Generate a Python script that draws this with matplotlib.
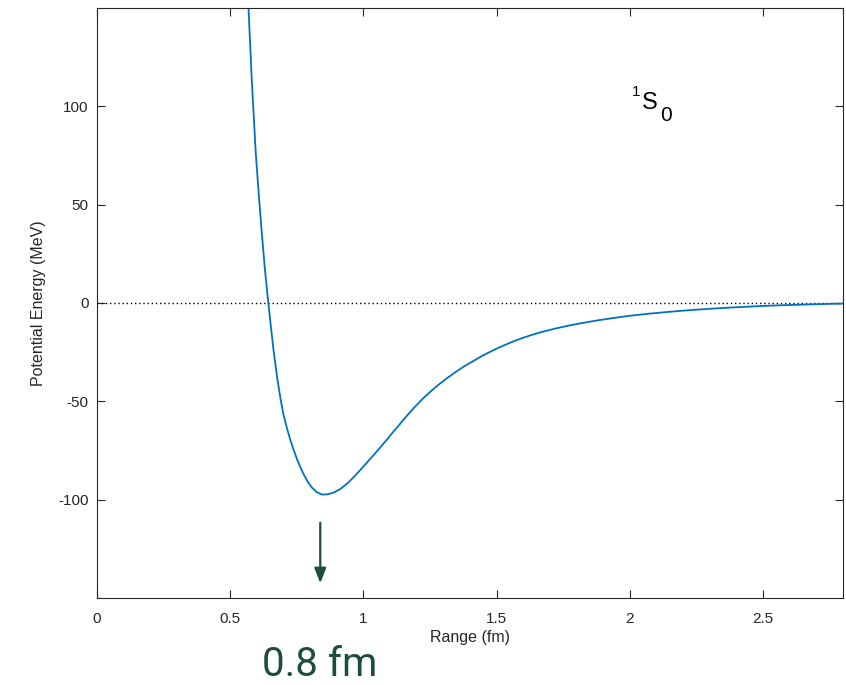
import matplotlib
matplotlib.use("Agg")
import matplotlib.pyplot as plt

# Potential (1S0 channel)
r_fm = [0.569, 0.581, 0.596, 0.607, 0.618, 0.630, 0.643, 0.653, 0.663, 0.676,
        0.690, 0.700, 0.713, 0.726, 0.738, 0.751, 0.763, 0.776, 0.792, 0.807,
        0.825, 0.845, 0.865, 0.888, 0.912, 0.939, 0.964, 0.989, 1.014, 1.039,
        1.064, 1.089, 1.114, 1.139, 1.164, 1.189, 1.220, 1.252, 1.283, 1.315,
        1.346, 1.377, 1.410, 1.440, 1.470, 1.503, 1.535, 1.565, 1.597, 1.628,
        1.670, 1.720, 1.770, 1.816, 1.880, 1.940, 2.000, 2.066, 2.130, 2.190,
        2.250, 2.317, 2.380, 2.440, 2.500, 2.568, 2.630, 2.690, 2.750, 2.800]
v_mev = [149.0, 113.0, 76.0, 55.5, 36.5, 17.5, 0.0, -12.5, -24.4, -37.8,
         -49.7, -56.8, -63.7, -69.8, -74.7, -79.5, -83.4, -87.2, -91.1, -93.9,
         -96.2, -97.4, -97.3, -96.4, -94.7, -91.8, -88.5, -84.8, -81.0, -77.2,
         -73.3, -69.3, -65.2, -61.2, -57.2, -53.4, -49.0, -45.0, -41.4, -38.1,
         -35.1, -32.3, -29.7, -27.3, -25.2, -23.0, -21.1, -19.4, -17.8, -16.4,
         -14.7, -13.0, -11.5, -10.3, -8.8, -7.6, -6.5, -5.5, -4.7, -4.0,
         -3.4, -2.8, -2.3, -1.9, -1.5, -1.15, -0.9, -0.65, -0.45, -0.3]

x_ticks = [0, 0.5, 1, 1.5, 2, 2.5]
x_tick_labels = ["0", "0.5", "1", "1.5", "2", "2.5"]
y_ticks = [-100, -50, 0, 50, 100]
y_tick_labels = ["-100", "-50", "0", "50", "100"]

arrow_r = 0.838
arrow_top, arrow_bottom = -111.7, -142.5

plt.rcParams['font.family'] = ['Liberation Sans', 'DejaVu Sans']

fig = plt.figure(figsize=(8.46, 6.85), dpi=100)
ax = fig.add_axes([97/846, 1-598/685, 746/846, 590/685])

ax.axhline(0, color='black', linestyle=(0, (1, 2)), linewidth=1.0)
ax.plot(r_fm, v_mev, color='#0072BD', linewidth=1.3)

ax.set_xlim(0, 2.8)
ax.set_ylim(-150, 150)
ax.set_xticks(x_ticks)
ax.set_xticklabels(x_tick_labels)
ax.set_yticks(y_ticks)
ax.set_yticklabels(y_tick_labels)

ax.tick_params(direction='in', length=6, width=0.8, top=True, right=True,
               labelsize=11, colors='#262626')
ax.tick_params(axis='x', pad=10)
ax.tick_params(axis='y', pad=6)
for s in ax.spines.values():
    s.set_color('#262626')
    s.set_linewidth(0.8)

ax.set_xlabel('Range (fm)', fontsize=11.5, color='#262626', labelpad=3)
ax.set_ylabel('Potential Energy (MeV)', fontsize=11.5, color='#262626', labelpad=9)

# 1S0 label
ax.text(0.717, 0.858, '1', transform=ax.transAxes, fontsize=11,
        color='black', ha='left', va='center')
ax.text(0.7306, 0.839, 'S', transform=ax.transAxes, fontsize=17,
        color='black', ha='left', va='center')
ax.text(0.7547, 0.8186, '0', transform=ax.transAxes, fontsize=15,
        color='black', ha='left', va='center')

ax.annotate('', xy=(arrow_r, arrow_bottom), xytext=(arrow_r, arrow_top),
            arrowprops=dict(arrowstyle='-|>,head_length=0.9,head_width=0.35',
                            color='#1E4D3B', lw=1.6, shrinkA=0, shrinkB=0))

fig.text(320/846, 1-665/685, '0.8 fm', fontsize=29, color='#1E4D3B',
         ha='center', va='center', family=['Roboto', 'DejaVu Sans'])

fig.savefig('out.png', dpi=100)
